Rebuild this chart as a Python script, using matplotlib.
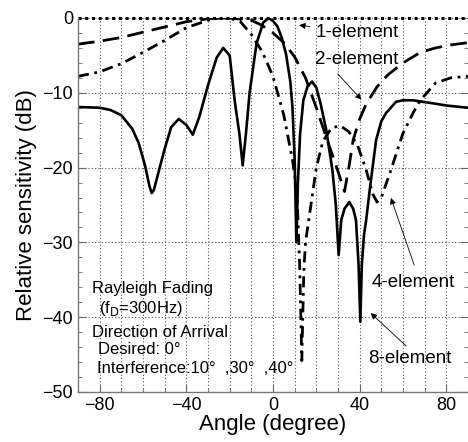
import matplotlib
matplotlib.use("Agg")
import matplotlib.pyplot as plt
from matplotlib.ticker import MultipleLocator

plt.rcParams['font.family'] = ['Liberation Sans', 'DejaVu Sans']

# ---------------- data ----------------
el1_x = [-90, 90]
el1_y = [0, 0]

el2_x = [-90, -80, -70, -60, -50, -40, -30, -20, -10, -5, 0, 5, 10, 15, 20, 25, 30, 33, 35, 37, 40, 43, 48, 53, 60, 68, 75, 82, 90]
el2_y = [-3.5, -3.1, -2.6, -1.9, -1.2, -0.5, -0.1, 0.0, -0.3, -1.0, -2.0, -3.3, -5.2, -8.0, -12.0, -16.3, -20.5, -23.2, -20.0, -16.3, -13.5, -11.5, -9.2, -7.6, -6.0, -4.6, -4.0, -3.6, -3.3]

el4_x = [-90, -80, -70, -60, -50, -40, -30, -25, -20, -15, -10, -5, 0, 5, 9, 11, 12.3, 13.3, 14.2, 15, 17, 20, 23, 27, 31, 35, 39, 43, 46, 48, 50, 54, 60, 65, 68, 75, 82, 90]
el4_y = [-7.8, -7.2, -6.1, -4.6, -3.0, -1.3, -0.3, 0.0, 0.0, -0.5, -2.2, -4.5, -7.8, -13.0, -19.0, -23.0, -33.0, -45.8, -34.0, -30.0, -26.0, -20.0, -16.5, -14.7, -14.4, -15.2, -17.0, -20.3, -23.5, -24.6, -24.0, -20.7, -15.4, -12.5, -11.0, -8.7, -8.0, -7.8]

el8_x = [-90, -80, -75, -70, -65, -62, -59, -57, -56, -55, -53, -50, -47, -43.5, -40, -37, -34, -30, -26, -23, -20, -17.7, -15.5, -14, -12.5, -10.8, -7.6, -4.5, -2, 0, 2, 4, 6, 8, 9, 10, 10.8, 11.5, 12.5, 14, 16, 18, 20, 22, 24.6, 27.4, 29, 30.3, 31.5, 33, 35.2, 37, 38.3, 39.5, 40.3, 41, 42, 43, 44.8, 47.6, 50, 52.2, 56.8, 60, 64.6, 73.6, 80, 90]
el8_y = [-11.9, -12.0, -12.3, -13.0, -14.8, -16.7, -19.8, -22.5, -23.4, -23.0, -20.8, -17.5, -14.6, -13.5, -14.3, -15.6, -13.2, -9.0, -5.3, -4.0, -5.0, -11.0, -15.5, -19.7, -15.5, -10.0, -3.4, -0.6, 0.0, -0.4, -1.1, -2.6, -4.8, -8.5, -12.0, -19.0, -30.0, -22.0, -15.5, -11.0, -9.1, -8.5, -9.3, -11.5, -15.0, -20.3, -25.0, -31.7, -27.0, -25.5, -24.6, -25.5, -27.0, -33.0, -40.6, -33.0, -29.0, -27.0, -22.6, -16.3, -13.8, -12.7, -11.2, -11.0, -11.0, -11.4, -11.7, -12.0]

x_ticks = [-80, -40, 0, 40, 80]
y_ticks = [0, -10, -20, -30, -40, -50]

info_lines = ["Rayleigh Fading", "(f$_{\\mathrm{D}}$=300Hz)", "Direction of Arrival",
              "Desired: 0°", "Interference:10°  ,30°  ,40°"]

# ---------------- figure ----------------
fig = plt.figure(figsize=(4.68, 4.42), dpi=100)
ax = fig.add_axes([78/468, 1-392/442, 1-78/468, (392-18)/442])

ax.plot(el8_x, el8_y, color='black', lw=1.9, solid_joinstyle='round')
ax.plot(el4_x, el4_y, color='black', lw=2.0, linestyle=(0, (4, 2, 1, 2)))
ax.plot(el2_x, el2_y, color='black', lw=2.0, linestyle=(0, (6, 3)))
ax.plot(el1_x, el1_y, color='black', lw=2.2, linestyle=(0, (1, 1.2)), clip_on=False)

ax.set_xlim(-90, 90)
ax.set_ylim(-50, 0)
ax.set_xticks(x_ticks)
ax.set_yticks(y_ticks)
ax.xaxis.set_minor_locator(MultipleLocator(10))
ax.yaxis.set_minor_locator(MultipleLocator(2))
ax.tick_params(axis='both', which='both', direction='in', right=True, top=False,
               labelsize=13, color='#666666')
ax.tick_params(which='major', length=6)
ax.tick_params(which='minor', length=3)
ax.grid(True, which='major', axis='y', linestyle=(0, (1, 2)), color='#555555', lw=0.8)
for gx in range(-80, 90, 10):
    ax.axvline(gx, linestyle=(0, (1, 2)), color='#555555', lw=0.8, zorder=0)

ax.spines['top'].set_visible(False)
ax.spines['right'].set_visible(False)
for s in ('left', 'bottom'):
    ax.spines[s].set_color('#777777')
    ax.spines[s].set_linewidth(1.0)

ax.set_xlabel("Angle (degree)", fontsize=16, labelpad=0)
ax.set_ylabel("Relative sensitivity (dB)", fontsize=16, labelpad=4)

# info text
info_pos = [(-83.6, -36.1), (-80.5, -38.8), (-83.6, -42.1), (-80.8, -44.3), (-81.4, -46.8)]
for (tx, ty), s in zip(info_pos, info_lines):
    ax.text(tx, ty, s, fontsize=12, ha='left', va='center')

arrow = dict(arrowstyle='-|>', color='black', lw=0.6, mutation_scale=9)
fs = 13.5
ax.annotate("1-element", xy=(10.8, -0.9), xytext=(19.5, -2.0), fontsize=fs,
            ha='left', va='center', arrowprops=arrow)
ax.annotate("2-element", xy=(41.7, -11.2), xytext=(19.5, -5.6), fontsize=fs,
            ha='left', va='center')
ax.annotate("", xy=(41.7, -11.2), xytext=(29, -7.2), arrowprops=arrow)
ax.annotate("4-element", xy=(45.4, -35.3), fontsize=fs, ha='left', va='center')
ax.annotate("", xy=(54, -23.7), xytext=(65.6, -33.4), arrowprops=arrow)
ax.annotate("8-element", xy=(44, -45.5), fontsize=fs, ha='left', va='center')
ax.annotate("", xy=(44.2, -39.2), xytext=(62.4, -44.1), arrowprops=arrow)

fig.savefig("out.png", dpi=100)
